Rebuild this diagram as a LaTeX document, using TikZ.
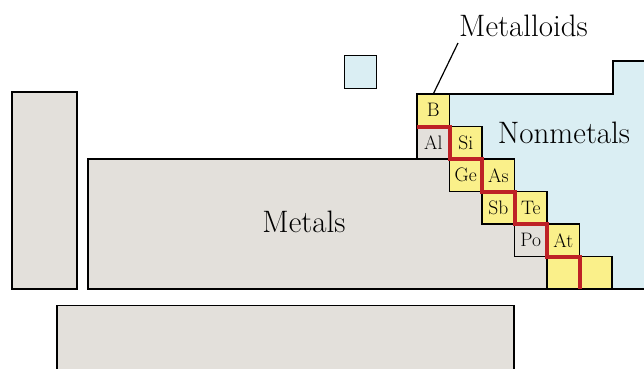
\documentclass[tikz,border=0pt]{standalone}
\usepackage{xcolor}
\usepackage{tikz}
\usetikzlibrary{positioning}

\definecolor{metalgray}{HTML}{E3E0DB}
\definecolor{nonmetalblue}{HTML}{DAEEF3}
\definecolor{metalloidyellow}{HTML}{FAF08A}
\definecolor{borderred}{HTML}{BE2126}

\tikzset{
 elem/.style={rectangle, draw=black, line width=1.2pt, minimum size=32.5pt,
   inner sep=0pt, outer sep=0pt, font=\fontsize{19.5}{19.5}\selectfont},
 metalloid/.style={elem, fill=metalloidyellow},
 metal/.style={elem, fill=metalgray},
 block/.style={draw=black, line width=1.2pt},
 biglabel/.style={font=\fontsize{31}{31}\selectfont}
}

\begin{document}
\begin{tikzpicture}[x=1pt, y=-1pt]
 \useasboundingbox (0,0) rectangle (644,368);
 % nonmetal region, drawn first
 \draw [block, fill=nonmetalblue] (449.5,94) -- (613,94) -- (613,61) -- (660,61)
   -- (660,289) -- (449.5,289) -- cycle;
 \node [elem, fill=nonmetalblue] (H) at (360.5,72) {};
 % metal blocks
 \draw [block, fill=metalgray] (12,92) rectangle (77,289);
 \draw [block, fill=metalgray] (57,305.5) rectangle (514,380);
 \draw [block, fill=metalgray] (88,289) -- (88,159) -- (417,159) -- (417,126.5)
   -- (449.5,126.5) -- (449.5,191.5) -- (482,191.5) -- (482,224)
   -- (547.5,224) -- (547.5,289) -- cycle;
 % the staircase of cells
 \node [metalloid] (B) at (433.25,110.25) {B};
 \node [metal, below=0pt of B] (Al) {Al};
 \node [metalloid, right=0pt of Al] (Si) {Si};
 \node [metalloid, below=0pt of Si] (Ge) {Ge};
 \node [metalloid, right=0pt of Ge] (As) {As};
 \node [metalloid, below=0pt of As] (Sb) {Sb};
 \node [metalloid, right=0pt of Sb] (Te) {Te};
 \node [metal, below=0pt of Te] (Po) {Po};
 \node [metalloid, right=0pt of Po] (At) {At};
 \node [metalloid, below=0pt of At] (X1) {};
 \node [metalloid, right=0pt of X1] (X2) {};
 \draw [draw=borderred, line width=4pt] (B.south west) -- (B.south east)
   -- (Si.south west) -- (Si.south east) -- (As.south west) -- (As.south east)
   -- (Te.south west) -- (Te.south east) -- (At.south west) -- (At.south east)
   -- (X2.south west);
 % labels
 \node [biglabel] (metals) at (304,222) {Metals};
 \node [biglabel] (nonmetals) at (564,133) {Nonmetals};
 \node [biglabel] (metalloids) at (523.5,26) {Metalloids};
 \coordinate (tip) at (458,43);
 \draw [line width=1.2pt] (B.north) -- (tip);
\end{tikzpicture}
\end{document}
